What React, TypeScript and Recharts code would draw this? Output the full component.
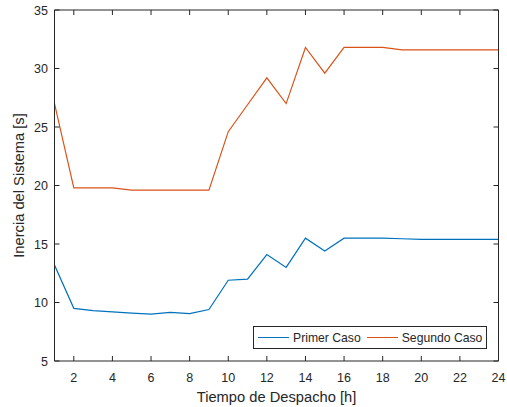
import React from 'react';
import { LineChart, Line, XAxis, YAxis, Legend } from 'recharts';

const hours = [1, 2, 3, 4, 5, 6, 7, 8, 9, 10, 11, 12, 13, 14, 15, 16, 17, 18, 19, 20, 21, 22, 23, 24];
const primerCaso = [13.2, 9.5, 9.3, 9.2, 9.1, 9.0, 9.15, 9.05, 9.4, 11.9, 12.0, 14.1, 13.0, 15.5, 14.4, 15.5, 15.5, 15.5, 15.45, 15.4, 15.4, 15.4, 15.4, 15.4];
const segundoCaso = [27.0, 19.8, 19.8, 19.8, 19.6, 19.6, 19.6, 19.6, 19.6, 24.6, 26.9, 29.2, 27.0, 31.8, 29.6, 31.8, 31.8, 31.8, 31.6, 31.6, 31.6, 31.6, 31.6, 31.6];
const xTicks = [2, 4, 6, 8, 10, 12, 14, 16, 18, 20, 22, 24];
const yTicks = [5, 10, 15, 20, 25, 30, 35];

const data = hours.map((h, i) => ({ h, primer: primerCaso[i], segundo: segundoCaso[i] }));

const FONT = '"Liberation Sans", Arial, Helvetica, sans-serif';
const INK = '#262626';
const BLUE = '#0072BD';
const ORANGE = '#D95319';
const TICK = 5;

const BottomTick = ({ x, y, payload }: any) => (
  <g>
    <line x1={x} x2={x} y1={y} y2={y - TICK} stroke={INK} strokeWidth={1} />
    <text x={x} y={y + 20.7} textAnchor="middle" fontSize={12.5} fill={INK} fontFamily={FONT}>
      {payload.value}
    </text>
  </g>
);

const TopTick = ({ x, y }: any) => (
  <line x1={x} x2={x} y1={y} y2={y + TICK} stroke={INK} strokeWidth={1} />
);

const LeftTick = ({ x, y, payload }: any) => (
  <g>
    <line x1={x} x2={x + TICK} y1={y} y2={y} stroke={INK} strokeWidth={1} />
    <text x={x - 6.5} y={y + 4.5} textAnchor="end" fontSize={12.5} fill={INK} fontFamily={FONT}>
      {payload.value}
    </text>
  </g>
);

const RightTick = ({ x, y }: any) => (
  <line x1={x} x2={x - TICK} y1={y} y2={y} stroke={INK} strokeWidth={1} />
);

const LegendBox = () => (
  <div
    style={{
      display: 'flex',
      alignItems: 'center',
      boxSizing: 'border-box',
      width: 234,
      height: 23,
      border: `1px solid ${INK}`,
      background: '#fff',
      paddingLeft: 4,
      fontFamily: FONT,
      fontSize: 12.2,
      color: INK,
      whiteSpace: 'nowrap',
    }}
  >
    <span style={{ display: 'inline-block', width: 31, borderTop: `1.5px solid ${BLUE}` }} />
    <span style={{ marginLeft: 4 }}>Primer Caso</span>
    <span style={{ display: 'inline-block', width: 31, marginLeft: 6, borderTop: `1.5px solid ${ORANGE}` }} />
    <span style={{ marginLeft: 4 }}>Segundo Caso</span>
  </div>
);

export default function App() {
  return (
    <div style={{ position: 'absolute', left: 0, top: 0, width: 507, height: 407, background: '#fff' }}>
      <LineChart
        width={507}
        height={407}
        data={data}
        margin={{ top: 9, right: 7.5, bottom: 16, left: 14.5 }}
      >
        <XAxis
          xAxisId="b"
          dataKey="h"
          type="number"
          domain={[1, 24]}
          ticks={xTicks}
          allowDataOverflow
          height={30}
          tickSize={0}
          tickMargin={0}
          tickLine={false}
          axisLine={{ stroke: INK, strokeWidth: 1 }}
          tick={<BottomTick />}
          label={{
            content: ({ viewBox }: any) => (
              <text
                x={viewBox.x + viewBox.width / 2}
                y={402}
                textAnchor="middle"
                fontSize={14.7}
                fill={INK}
                fontFamily={FONT}
              >
                Tiempo de Despacho [h]
              </text>
            ),
          }}
        />
        <XAxis
          xAxisId="t"
          orientation="top"
          dataKey="h"
          type="number"
          domain={[1, 24]}
          ticks={xTicks}
          allowDataOverflow
          height={1}
          tickSize={0}
          tickMargin={0}
          tickLine={false}
          axisLine={{ stroke: INK, strokeWidth: 1 }}
          tick={<TopTick />}
        />
        <YAxis
          yAxisId="l"
          type="number"
          domain={[5, 35]}
          ticks={yTicks}
          allowDataOverflow
          width={40}
          tickSize={0}
          tickMargin={0}
          tickLine={false}
          axisLine={{ stroke: INK, strokeWidth: 1 }}
          tick={<LeftTick />}
          label={{
            content: ({ viewBox }: any) => {
              const cy = viewBox.y + viewBox.height / 2;
              return (
                <text
                  x={24}
                  y={cy}
                  transform={`rotate(-90, 24, ${cy})`}
                  textAnchor="middle"
                  fontSize={14.7}
                  fill={INK}
                  fontFamily={FONT}
                >
                  Inercia del Sistema [s]
                </text>
              );
            },
          }}
        />
        <YAxis
          yAxisId="r"
          orientation="right"
          type="number"
          domain={[5, 35]}
          ticks={yTicks}
          allowDataOverflow
          width={1}
          tickSize={0}
          tickMargin={0}
          tickLine={false}
          axisLine={{ stroke: INK, strokeWidth: 1 }}
          tick={<RightTick />}
        />
        <Line
          xAxisId="b"
          yAxisId="l"
          type="linear"
          dataKey="primer"
          name="Primer Caso"
          stroke={BLUE}
          strokeWidth={1.2}
          dot={false}
          isAnimationActive={false}
        />
        <Line
          xAxisId="t"
          yAxisId="r"
          type="linear"
          dataKey="segundo"
          name="Segundo Caso"
          stroke={ORANGE}
          strokeWidth={1.2}
          dot={false}
          isAnimationActive={false}
        />
        <Legend
          layout="horizontal"
          verticalAlign="middle"
          align="center"
          content={<LegendBox />}
          wrapperStyle={{ position: 'absolute', left: 253, top: 326, width: 234, height: 23 }}
        />
      </LineChart>
    </div>
  );
}
